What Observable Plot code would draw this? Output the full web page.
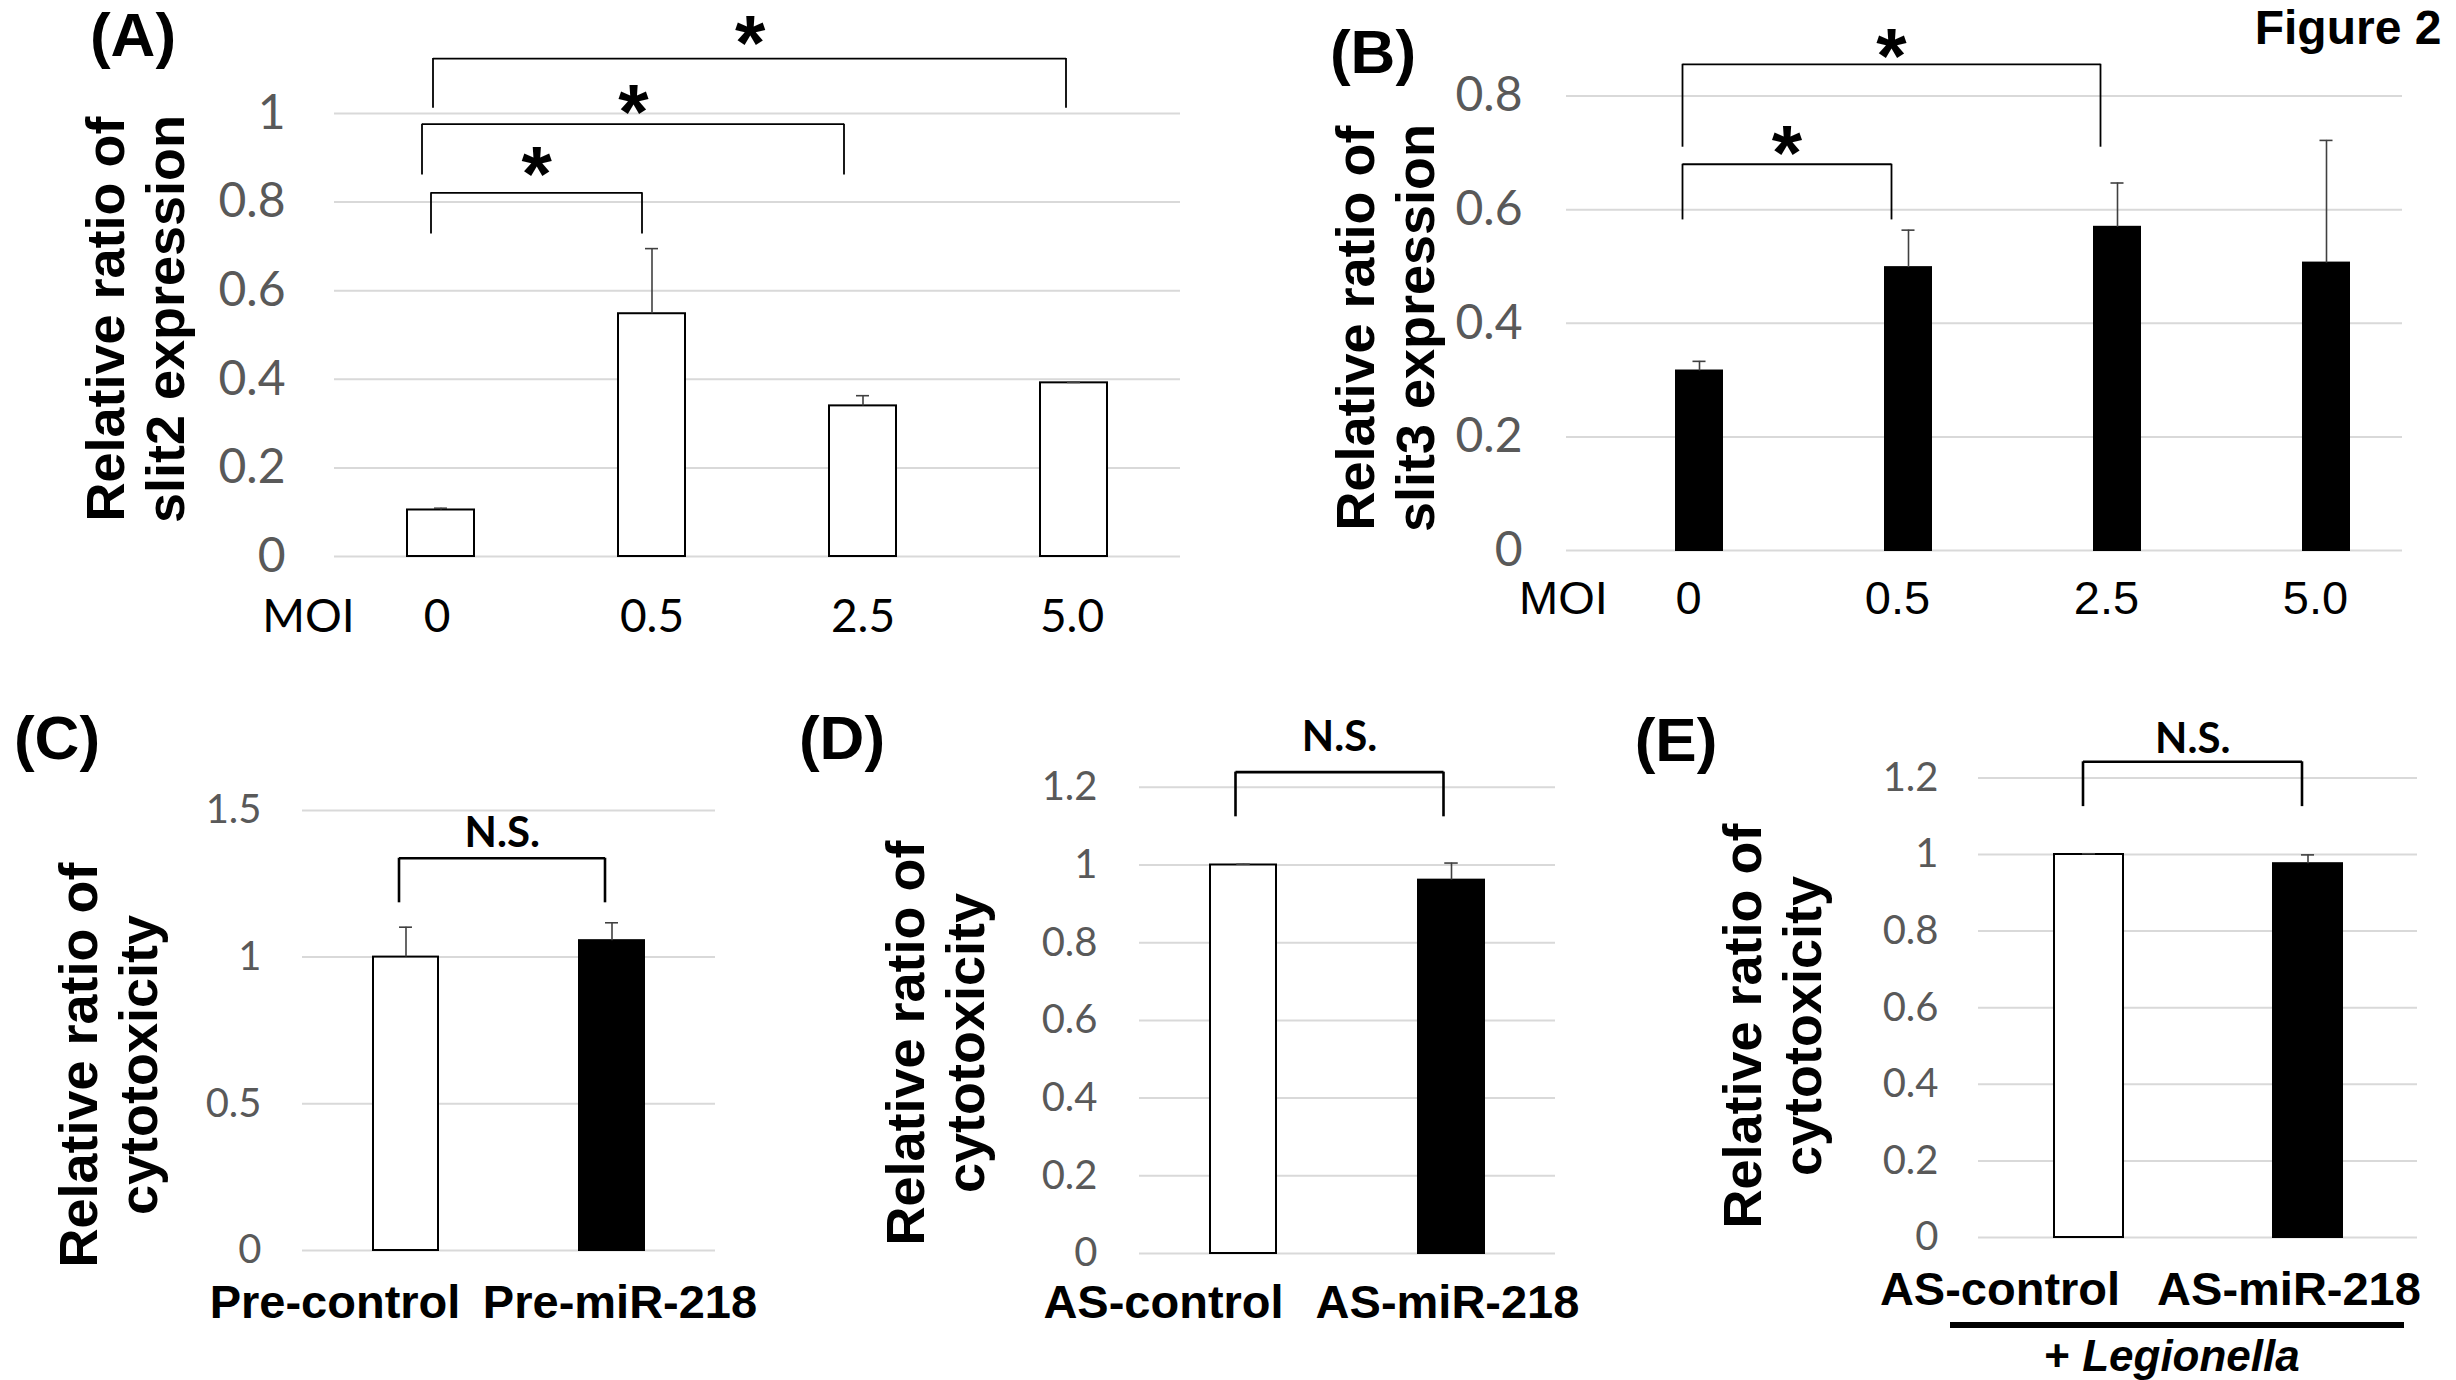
<!DOCTYPE html>
<html><head><meta charset="utf-8">
<script src="https://cdn.jsdelivr.net/npm/d3@7"></script>
<script src="https://cdn.jsdelivr.net/npm/@observablehq/plot@0.6"></script>
<style>
html,body{margin:0;padding:0;background:#fff;}
#fig{position:relative;width:2456px;height:1380px;overflow:hidden;background:#fff;font-family:"Liberation Sans",Arial,sans-serif;}
#fig svg{position:absolute;left:0;top:0;}
.lbl{position:absolute;transform:translate(-50%,-50%);font-weight:bold;white-space:nowrap;color:#000;line-height:1;}
.ytitle{position:absolute;transform:translate(-50%,-50%) rotate(-90deg);font-weight:bold;text-align:center;white-space:nowrap;font-size:54px;line-height:60px;color:#000;}
</style></head><body><div id="fig"></div>
<script>
// ---------- data ----------
const moi = ["0", "0.5", "2.5", "5.0"];
const slit2 = [0.105, 0.548, 0.340, 0.392];
const slit2Sd = [0.004, 0.147, 0.023, 0.001];
const slit3 = [0.316, 0.498, 0.569, 0.506];
const slit3Sd = [0.017, 0.066, 0.078, 0.216];
const preGroups = ["Pre-control", "Pre-miR-218"];
const preCyto = [1.0, 1.056];
const preSd = [0.102, 0.061];
const asGroups = ["AS-control", "AS-miR-218"];
const asCyto = [1.0, 0.961];
const asSd = [0.002, 0.044];
const asLegCyto = [1.0, 0.976];
const asLegSd = [0.002, 0.023];
const ticksA = [0, 0.2, 0.4, 0.6, 0.8, 1];
const ticksB = [0, 0.2, 0.4, 0.6, 0.8];
const ticksC = [0, 0.5, 1, 1.5];
const ticksDE = [0, 0.2, 0.4, 0.6, 0.8, 1, 1.2];
const sigA = [
  {from: "0", to: "0.5", top: 0.821, leg: 0.728, label: "*", at: 0.894},
  {from: "0", to: "2.5", top: 0.976, leg: 0.861, label: "*", at: 1.036},
  {from: "0", to: "5.0", top: 1.124, leg: 1.012, label: "*", at: 1.19}
];
const sigB = [
  {from: "0", to: "0.5", top: 0.680, leg: 0.582, label: "*", at: 0.725},
  {from: "0", to: "2.5", top: 0.856, leg: 0.710, label: "*", at: 0.896}
];
const sigC = [{from: "Pre-control", to: "Pre-miR-218", top: 1.337, leg: 1.185, label: "N.S.", at: 1.42}];
const sigD = [{from: "AS-control", to: "AS-miR-218", top: 1.239, leg: 1.124, label: "N.S.", at: 1.328}];
const sigE = [{from: "AS-control", to: "AS-miR-218", top: 1.242, leg: 1.125, label: "N.S.", at: 1.30}];

// ---------- drawing ----------
const W = 2456, H = 1380;
const TICKFONT = "Lato, 'Open Sans', sans-serif";
const ARIAL = "'Liberation Sans', Arial, sans-serif";

function panel(c) {
  const data = c.cats.map((k, i) => ({cat: k, v: c.values[i], hi: c.values[i] + c.sd[i]}));
  const step = (c.gx1 - c.gx0) / c.cats.length;
  const bw = step * (1 - c.pad);
  const idx = k => c.cats.indexOf(k);
  const bdx = c.barDx || 0;
  const marks = [
    Plot.ruleY(c.ticks, {y: d => d, stroke: "#d9d9d9", strokeWidth: 2}),
    Plot.text(c.ticks, {y: d => d, frameAnchor: "left", dx: c.tickDx, textAnchor: "end", lineAnchor: "middle", text: d => String(d),
      fill: "#595959", fontSize: c.tickFont, fontFamily: TICKFONT}),
    Plot.barY(data, {x: "cat", y: "v", dx: bdx, fill: c.fill, stroke: "#000", strokeWidth: 2}),
    Plot.ruleX(data, {x: "cat", y1: "v", y2: "hi", dx: bdx, stroke: "#404040", strokeWidth: 1.6}),
    Plot.tickY(data, {x: "cat", y: "hi", dx: bdx, stroke: "#404040", strokeWidth: 1.6, insetLeft: (bw - 13) / 2, insetRight: (bw - 13) / 2}),
    ...c.cats.map((k, i) => Plot.text([k], {x: d => d, frameAnchor: "bottom", lineAnchor: "middle", textAnchor: "middle",
      dy: c.catDy, dx: c.catDx[i],
      text: d => d, fill: "#000", fontSize: c.catFont, fontFamily: c.catFamily, fontWeight: c.catWeight}))
  ];
  c.sig.forEach((s, j) => {
    const o = c.sigDx[j];
    marks.push(
      Plot.link([s], {x1: "from", x2: "to", y1: "top", y2: "top", dx: o, stroke: "#000", strokeWidth: c.brW}),
      Plot.ruleX([s], {x: "from", y1: "leg", y2: "top", dx: o, stroke: "#000", strokeWidth: c.brW}),
      Plot.ruleX([s], {x: "to", y1: "leg", y2: "top", dx: o, stroke: "#000", strokeWidth: c.brW}),
      Plot.text([s], {x: "from", y: "at", dx: o + (idx(s.to) - idx(s.from)) * step / 2, dy: c.sigDy,
        lineAnchor: "middle", textAnchor: "middle",
        text: "label", fill: "#000", fontSize: c.sigFont, fontFamily: c.sigFamily, fontWeight: c.sigWeight})
    );
  });
  if (c.moiDx !== undefined) {
    marks.push(Plot.text(["MOI"], {frameAnchor: "bottom-left", textAnchor: "middle", lineAnchor: "middle",
      dx: c.moiDx, dy: c.catDy, text: d => d, fontSize: c.catFont, fontFamily: c.catFamily, fill: "#000"}));
  }
  return Plot.plot({
    width: W, height: H,
    marginLeft: c.gx0, marginRight: W - c.gx1, marginTop: 0, marginBottom: H - c.y0,
    x: {domain: c.cats, range: [c.gx0, c.gx1], paddingInner: c.pad, paddingOuter: c.pad / 2, axis: null},
    y: {domain: [0, c.y0 / c.ppu], range: [c.y0, 0], axis: null},
    style: {background: "transparent", overflow: "visible"},
    marks
  });
}

const fig = document.getElementById("fig");
const star = {sigFont: 78, sigFamily: ARIAL, sigWeight: "bold", sigDy: 16, brW: 1.8};
const ns = {sigFont: 42, sigFamily: TICKFONT, sigWeight: "bold", sigDy: 0, brW: 2.6,
  catFamily: ARIAL, catWeight: "bold", catFont: 47, tickFont: 40};
const panels = [
  {...star, cats: moi, values: slit2, sd: slit2Sd, ticks: ticksA, sig: sigA, sigDx: [-10, -19, -8], fill: "#fff",
    gx0: 334, gx1: 1180, y0: 556, ppu: 443, pad: 0.683, tickDx: -49, tickFont: 48,
    catDy: 61, catFont: 46, catFamily: TICKFONT, catWeight: "normal", catDx: [-4, 0, 0, -2], moiDx: 308 - 334},
  {...star, cats: moi, values: slit3, sd: slit3Sd, ticks: ticksB, sig: sigB, sigDx: [11, 11], fill: "#000",
    gx0: 1566, gx1: 2402, y0: 550, ppu: 568, pad: 0.78, barDx: 28, tickDx: -44, tickFont: 48,
    catDy: 48, catFont: 47, catFamily: ARIAL, catWeight: "normal", catDx: [17, 17, 17, 17], moiDx: 1563 - 1566},
  {...ns, cats: preGroups, values: preCyto, sd: preSd, ticks: ticksC, sig: sigC, sigDx: [-7], fill: d => d.cat === "Pre-control" ? "#fff" : "#000",
    gx0: 302, gx1: 715, y0: 1250, ppu: 293.4, pad: 0.685, tickDx: -41, catDy: 52, catDx: [-71, 8]},
  {...ns, cats: asGroups, values: asCyto, sd: asSd, ticks: ticksDE, sig: sigD, sigDx: [-8], fill: d => d.cat === "AS-control" ? "#fff" : "#000",
    gx0: 1139, gx1: 1555, y0: 1253, ppu: 388.5, pad: 0.685, tickDx: -42, catDy: 49, catDx: [-80, -4]},
  {...ns, cats: asGroups, values: asLegCyto, sd: asLegSd, ticks: ticksDE, sig: sigE, sigDx: [-6], fill: d => d.cat === "AS-control" ? "#fff" : "#000",
    gx0: 1978, gx1: 2417, y0: 1237, ppu: 383, pad: 0.686, tickDx: -40, catDy: 52, catDx: [-89, -19]}
];
for (const p of panels) fig.appendChild(panel(p));

// ---------- panel letters, titles, annotations ----------
function addDiv(cls, html, x, y, extraStyle = "") {
  const d = document.createElement("div");
  d.className = cls;
  d.innerHTML = html;
  d.style.cssText = `left:${x}px;top:${y}px;${extraStyle}`;
  fig.appendChild(d);
}
addDiv("lbl", "(A)", 133, 35, "font-size:62px");
addDiv("lbl", "(B)", 1373, 52, "font-size:62px");
addDiv("lbl", "(C)", 57, 738, "font-size:62px");
addDiv("lbl", "(D)", 842, 738, "font-size:62px");
addDiv("lbl", "(E)", 1676, 740, "font-size:62px");
addDiv("lbl", "Figure 2", 2348, 28, "font-size:48px");
addDiv("ytitle", "Relative ratio of<br>slit2 expression", 135, 319);
addDiv("ytitle", "Relative ratio of<br>slit3 expression", 1385, 328);
addDiv("ytitle", "Relative ratio of<br>cytotoxicity", 108, 1065);
addDiv("ytitle", "Relative ratio of<br>cytotoxicity", 935, 1043);
addDiv("ytitle", "Relative ratio of<br>cytotoxicity", 1772, 1026);
addDiv("lbl", "+ <i>Legionella</i>", 2172, 1356, "font-size:44px");
const ul = document.createElement("div");
ul.style.cssText = "position:absolute;left:1950px;top:1322px;width:454px;height:6px;background:#000";
fig.appendChild(ul);
</script></body></html>
